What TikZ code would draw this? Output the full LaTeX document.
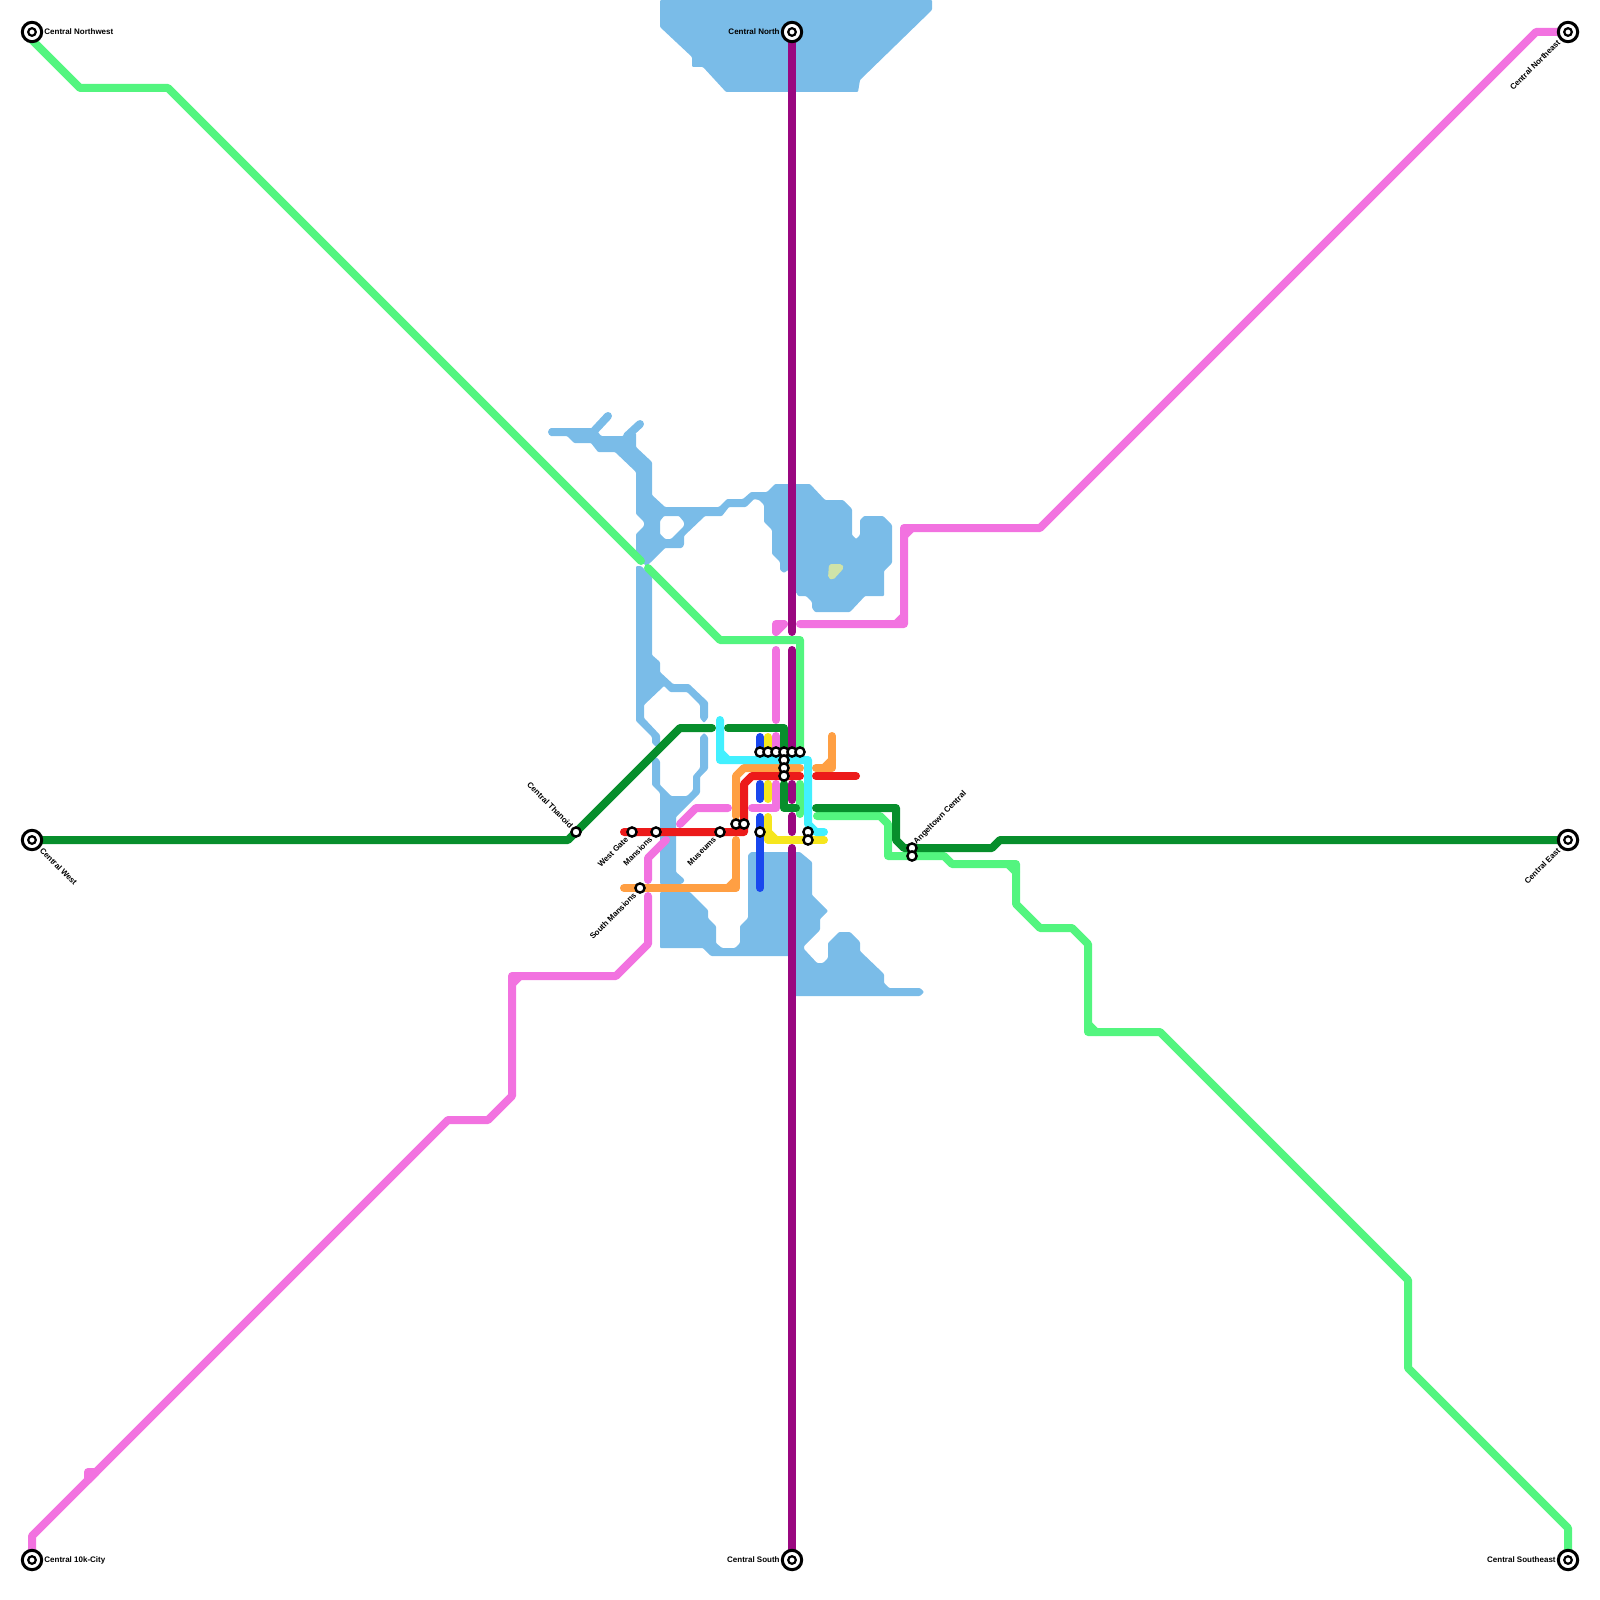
\documentclass[tikz,border=0pt]{standalone}
\usepackage{fontspec}
\setmainfont{Liberation Sans}
\definecolor{mWater}{HTML}{7ABCE8}
\definecolor{mIsland}{HTML}{CFE3A8}
\definecolor{mLeaf}{HTML}{53F57F}
\definecolor{mForest}{HTML}{078E2C}
\definecolor{mPink}{HTML}{F272E0}
\definecolor{mPlum}{HTML}{9A0780}
\definecolor{mRed}{HTML}{EC1A1A}
\definecolor{mOrange}{HTML}{FF9F43}
\definecolor{mCyan}{HTML}{42F0FF}
\definecolor{mBlue}{HTML}{1947EE}
\definecolor{mYellow}{HTML}{F6E61E}
\tikzset{
  metro/.style={line width=4pt, line cap=round, line join=round},
  water/.style={fill=mWater, rounded corners=0.5pt},
  stopdot/.style={circle, draw=black, fill=white, line width=1.2pt, minimum size=4.6pt, inner sep=0pt},
  hubstop/.style={circle, draw=black, fill=white, line width=1.5pt, minimum size=9.7pt, inner sep=0pt,
    path picture={\draw[black, line width=1.1pt] (path picture bounding box.center) circle (1.9pt);}},
  stoplabel/.style={font=\bfseries\fontsize{4}{4.8}\selectfont, text=black, inner sep=0pt}
}
\begin{document}
\begin{tikzpicture}[x=0.5pt,y=-0.5pt]
  \useasboundingbox (0,0) rectangle (1600,1600);
  \coordinate (cnw) at (32,32);
  \coordinate (cn) at (792,32);
  \coordinate (cne) at (1568,32);
  \coordinate (cw) at (32,840);
  \coordinate (ce) at (1568,840);
  \coordinate (ctk) at (32,1560);
  \coordinate (cs) at (792,1560);
  \coordinate (cse) at (1568,1560);

  % water
  \fill[water] (660,0) -- (660,27) -- (692,57) -- (692,67) -- (703,67) -- (726,92) -- (858,92) -- (860,80)
    -- (932,10) -- (932,0) -- cycle;
  \fill[water, even odd rule] (550,428) -- (591,428) -- (598,432) -- (601,436) -- (623,436) -- (636,433) -- (636,447)
    -- (652,462) -- (652,495) -- (665,507) -- (719,507) -- (727,499) -- (743,499) -- (751,492) -- (767,492)
    -- (775,484) -- (810,484) -- (825,500) -- (843,500) -- (852,509) -- (852,535) -- (856,539) -- (860,535)
    -- (860,520) -- (864,516) -- (883,516) -- (892,525) -- (892,563) -- (884,571) -- (884,596) -- (865,596)
    -- (850,612) -- (815,612) -- (812,608) -- (812,602) -- (806,596) -- (798,596) -- (796,592) -- (792,592)
    -- (792,570) -- (788,570) -- (784,573) -- (780,570) -- (780,562) -- (772,554) -- (772,530) -- (764,522)
    -- (764,505) -- (759,500) -- (754,499) -- (746,507) -- (729,507) -- (722,516) -- (705,516) -- (684,536)
    -- (684,545) -- (682,548) -- (665,548) -- (650,563) -- (646,566) -- (642,562) -- (636,562) -- (636,534)
    -- (644,526) -- (644,522) -- (636,514) -- (636,472) -- (615,452) -- (598,452) -- (591,443) -- (574,443)
    -- (567,436) -- (550,436) -- cycle
    (664,516) -- (679,516) -- (684,522) -- (684,526) -- (671,539) -- (665,539) -- (660,534) -- (660,521) -- cycle;
  \draw[metro, mWater] (552,432) -- (560,432);
  \draw[metro, mWater] (594,431) -- (608,416);
  \draw[metro, mWater] (627,436) -- (640,424);
  \fill[mIsland, rounded corners=1pt] (829,564) -- (842,564) -- (844,568) -- (833,580) -- (828,578) -- cycle;
  \fill[water] (636,566) -- (641,566) -- (652,577) -- (652,655) -- (660,662) -- (660,672) -- (673,684) -- (689,684)
    -- (708,702) -- (708,718) -- (704,723) -- (700,718) -- (700,705) -- (687,692) -- (670,692) -- (664,686)
    -- (644,705) -- (644,718) -- (660,735) -- (660,743) -- (656,747) -- (652,743) -- (652,737) -- (636,721) -- cycle;
  \fill[water] (652,761) -- (656,757) -- (660,761) -- (660,785) -- (671,796) -- (687,796) -- (693,790) -- (693,776)
    -- (700,768) -- (700,737) -- (704,733) -- (708,737) -- (708,769) -- (700,777) -- (700,793) -- (676,817)
    -- (676,872) -- (684,879) -- (684,882) -- (681,884) -- (660,884) -- (660,793) -- (652,785) -- cycle;
  \fill[water] (660,892) -- (690,892) -- (708,910) -- (708,918) -- (716,926) -- (716,943) -- (722,948) -- (735,948)
    -- (740,943) -- (740,926) -- (748,918) -- (748,855) -- (751,852) -- (800,852) -- (812,862) -- (812,895)
    -- (828,911) -- (820,919) -- (820,930) -- (804,946) -- (804,949) -- (817,963) -- (823,963) -- (828,958)
    -- (828,943) -- (839,932) -- (850,932) -- (860,942) -- (860,951) -- (884,974) -- (884,983) -- (889,988)
    -- (920,988) -- (924,992) -- (920,996) -- (792,996) -- (792,956) -- (711,956) -- (703,948) -- (660,948) -- cycle;

  % lines
  \draw[metro, mLeaf] (cnw) -- (32,40) -- (80,88) -- (168,88) -- (641,561);
  \draw[metro, mLeaf] (648,568) -- (720,640) -- (800,640) -- (800,752);
  \draw[metro, mLeaf] (800,784) -- (800,814);
  \draw[metro, mLeaf] (817,816) -- (880,816) -- (888,824) -- (888,856) -- (944,856) -- (952,864) -- (1016,864)
    -- (1016,904) -- (1040,928) -- (1072,928) -- (1088,944) -- (1088,1032) -- (1160,1032) -- (1408,1280)
    -- (1408,1368) -- (1568,1528) -- (cse);
  \draw[metro, mPink] (cne) -- (1536,32) -- (1040,528) -- (904,528) -- (904,624) -- (800,624);
  \draw[metro, mPink] (776,632) -- (776,624) -- (784,624);
  \draw[metro, mPink] (776,650) -- (776,720);
  \draw[metro, mPink] (776,736) -- (776,752);
  \draw[metro, mPink] (776,784) -- (776,808) -- (752,808);
  \draw[metro, mPink] (728,808) -- (696,808) -- (680,824);
  \draw[metro, mPink] (666,840) -- (648,858) -- (648,880);
  \draw[metro, mPink] (648,896) -- (648,944) -- (616,976) -- (512,976) -- (512,1096) -- (488,1120) -- (448,1120)
    -- (32,1536) -- (ctk);
  \draw[metro, mPink] (88,1480) -- (88,1472) -- (96,1472);
  \foreach \ax/\ay/\bx/\by in {896/624/904/616, 904/536/912/528, 776/632/784/624, 512/984/520/976, 88/1480/96/1472}{
    \draw[metro, mPink] (\ax,\ay) -- (\bx,\by);
  }
  \draw[metro, mLeaf] (1008,864) -- (1016,872);
  \draw[metro, mLeaf] (1088,1024) -- (1096,1032);
  \draw[metro, mForest] (cw) -- (568,840) -- (680,728) -- (712,728);
  \draw[metro, mForest] (728,728) -- (784,728) -- (784,752);
  \draw[metro, mForest] (784,784) -- (784,808) -- (796,808);
  \draw[metro, mForest] (816,808) -- (896,808) -- (896,840) -- (904,848) -- (992,848) -- (1000,840) -- (ce);
  \draw[metro, mBlue] (760,737) -- (760,752);
  \draw[metro, mBlue] (760,784) -- (760,799);
  \draw[metro, mBlue] (760,817) -- (760,888);
  \draw[metro, mYellow] (768,737) -- (768,752);
  \draw[metro, mYellow] (768,784) -- (768,799);
  \draw[metro, mYellow] (768,817) -- (768,840) -- (824,840);
  \draw[metro, mYellow] (768,832) -- (776,840);
  \draw[metro, mOrange] (736,816) -- (736,776) -- (744,768) -- (800,768);
  \draw[metro, mOrange] (816,768) -- (832,768) -- (832,736);
  \draw[metro, mOrange] (824,768) -- (832,760);
  \draw[metro, mOrange] (736,840) -- (736,888) -- (624,888);
  \draw[metro, mOrange] (728,888) -- (736,880);
  \draw[metro, mRed] (624,832) -- (744,832) -- (744,784) -- (752,776) -- (800,776);
  \draw[metro, mRed] (816,776) -- (856,776);
  \draw[metro, mCyan] (720,720) -- (720,760) -- (808,760) -- (808,824) -- (816,832) -- (824,832);
  \draw[metro, mCyan] (720,752) -- (728,760);
  \draw[metro, mPlum] (cn) -- (792,632);
  \draw[metro, mPlum] (792,650) -- (792,752);
  \draw[metro, mPlum] (792,784) -- (792,800);
  \draw[metro, mPlum] (792,816) -- (792,832);
  \draw[metro, mPlum] (792,848) -- (cs);

  % stations
  \foreach \nm/\x/\y in {a/760/752, b/768/752, c/776/752, d/784/752, e/792/752, f/800/752, g/784/760, h/784/768,
     i/784/776, j/736/824, k/744/824, westgate/632/832, mansions/656/832, museums/720/832, l/760/832, m/808/832,
     n/808/840, southmansions/640/888, angeltown/912/848, o/912/856, thanoid/576/832}{
     \node[stopdot] (stop\nm) at (\x,\y) {};
  }
  \foreach \nm in {cnw,cn,cne,cw,ce,ctk,cs,cse}{
     \node[hubstop] (hub\nm) at (\nm) {};
  }

  % labels
  \node[stoplabel, anchor=west] (lblcnw) at (44,32) {Central Northwest};
  \node[stoplabel, anchor=east] (lblcn) at (780,32) {Central North};
  \node[stoplabel, anchor=east, rotate=45] (lblcne) at (1559,41) {Central Northeast};
  \node[stoplabel, anchor=west, rotate=-45] (lblcw) at (41,849) {Central West};
  \node[stoplabel, anchor=east, rotate=45] (lblce) at (1559,849) {Central East};
  \node[stoplabel, anchor=west] (lblctk) at (44,1560) {Central 10k-City};
  \node[stoplabel, anchor=east] (lblcs) at (780,1560) {Central South};
  \node[stoplabel, anchor=east] (lblcse) at (1556,1560) {Central Southeast};
  \node[stoplabel, anchor=east, rotate=-45] (lblthanoid) at (572,827) {Central Thanoid};
  \node[stoplabel, anchor=east, rotate=45] (lblwestgate) at (627,838) {West Gate};
  \node[stoplabel, anchor=east, rotate=45] (lblmansions) at (651,838) {Mansions};
  \node[stoplabel, anchor=east, rotate=45] (lblmuseums) at (715,838) {Museums};
  \node[stoplabel, anchor=east, rotate=45] (lblsouth) at (635,894) {South Mansions};
  \node[stoplabel, anchor=west, rotate=45] (lblangeltown) at (915,843) {Angeltown Central};
\end{tikzpicture}
\end{document}
